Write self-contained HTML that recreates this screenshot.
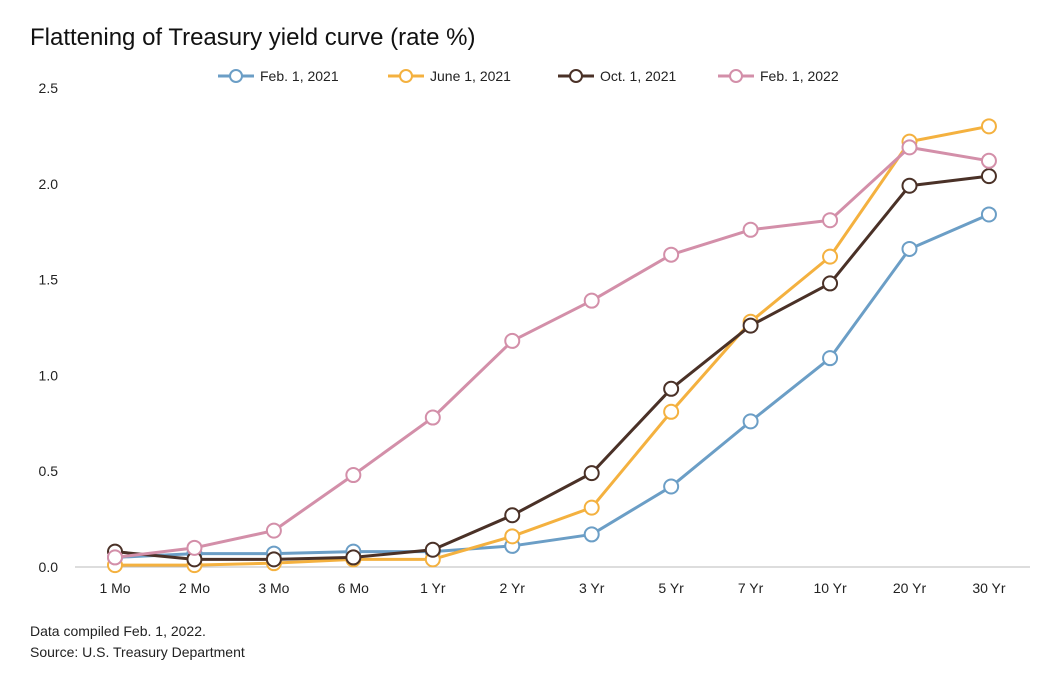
<!DOCTYPE html>
<html><head><meta charset="utf-8"><style>
body{margin:0;background:#fff;font-family:"Liberation Sans",sans-serif;}
#wrap{position:relative;width:1058px;height:684px;overflow:hidden;}
</style></head><body>
<div id="wrap">
<svg id="chart" width="1058" height="684"></svg>
</div>
<script>
const categories=["1 Mo","2 Mo","3 Mo","6 Mo","1 Yr","2 Yr","3 Yr","5 Yr","7 Yr","10 Yr","20 Yr","30 Yr"];
const seriesNames=["Feb. 1, 2021","June 1, 2021","Oct. 1, 2021","Feb. 1, 2022"];
const feb2021=[0.05,0.07,0.07,0.08,0.08,0.11,0.17,0.42,0.76,1.09,1.66,1.84];
const jun2021=[0.01,0.01,0.02,0.04,0.04,0.16,0.31,0.81,1.28,1.62,2.22,2.30];
const oct2021=[0.08,0.04,0.04,0.05,0.09,0.27,0.49,0.93,1.26,1.48,1.99,2.04];
const feb2022=[0.05,0.10,0.19,0.48,0.78,1.18,1.39,1.63,1.76,1.81,2.19,2.12];
const yTicks=[0,0.5,1.0,1.5,2.0,2.5];
const yTickLabels=["0.0","0.5","1.0","1.5","2.0","2.5"];
const colors=["#6b9ec6","#f4b13f","#4a3127","#d38fa9"];
const NS="http://www.w3.org/2000/svg";
const svg=document.getElementById('chart');
function X(i){return 115+i*79.45;}
function Y(v){return 567-v*191.6;}
function mk(t,a,p){const e=document.createElementNS(NS,t);for(const k in a)e.setAttribute(k,a[k]);(p||svg).appendChild(e);return e;}
let t=mk('text',{x:30,y:45,'font-size':24,fill:'#111'});t.textContent="Flattening of Treasury yield curve (rate %)";


yTicks.forEach((v,i)=>{const l=mk('text',{x:58,y:Y(v)+5,'font-size':14,'text-anchor':'end',fill:'#222'});l.textContent=yTickLabels[i];

});
const ax=mk('line',{x1:75,y1:567,x2:1030,y2:567,stroke:'#bbb','stroke-width':1});


categories.forEach((c,i)=>{const l=mk('text',{x:X(i),y:593,'font-size':14,'text-anchor':'middle',fill:'#222'});l.textContent=c;

});
const all=[feb2021,jun2021,oct2021,feb2022];
all.forEach((s,k)=>{const g=mk('g',{});


mk('polyline',{points:s.map((v,i)=>X(i)+','+Y(v)).join(' '),fill:'none',stroke:colors[k],'stroke-width':3,'stroke-linejoin':'round'},g);
s.forEach((v,i)=>{const c=mk('circle',{cx:X(i),cy:Y(v),r:7,fill:'#fff',stroke:colors[k],'stroke-width':2},g);

});});
const lx=[218,388,558,718];
seriesNames.forEach((n,k)=>{const g=mk('g',{});


mk('line',{x1:lx[k],y1:76,x2:lx[k]+36,y2:76,stroke:colors[k],'stroke-width':3},g);
mk('circle',{cx:lx[k]+18,cy:76,r:6,fill:'#fff',stroke:colors[k],'stroke-width':2},g);
const tx=mk('text',{x:lx[k]+42,y:81,'font-size':14,fill:'#222'},g);tx.textContent=n;});
[["Data compiled Feb. 1, 2022.",636],["Source: U.S. Treasury Department",657]].forEach(([s,y])=>{const f=mk('text',{x:30,y:y,'font-size':14,fill:'#222'});f.textContent=s;

});
</script>
</body></html>
